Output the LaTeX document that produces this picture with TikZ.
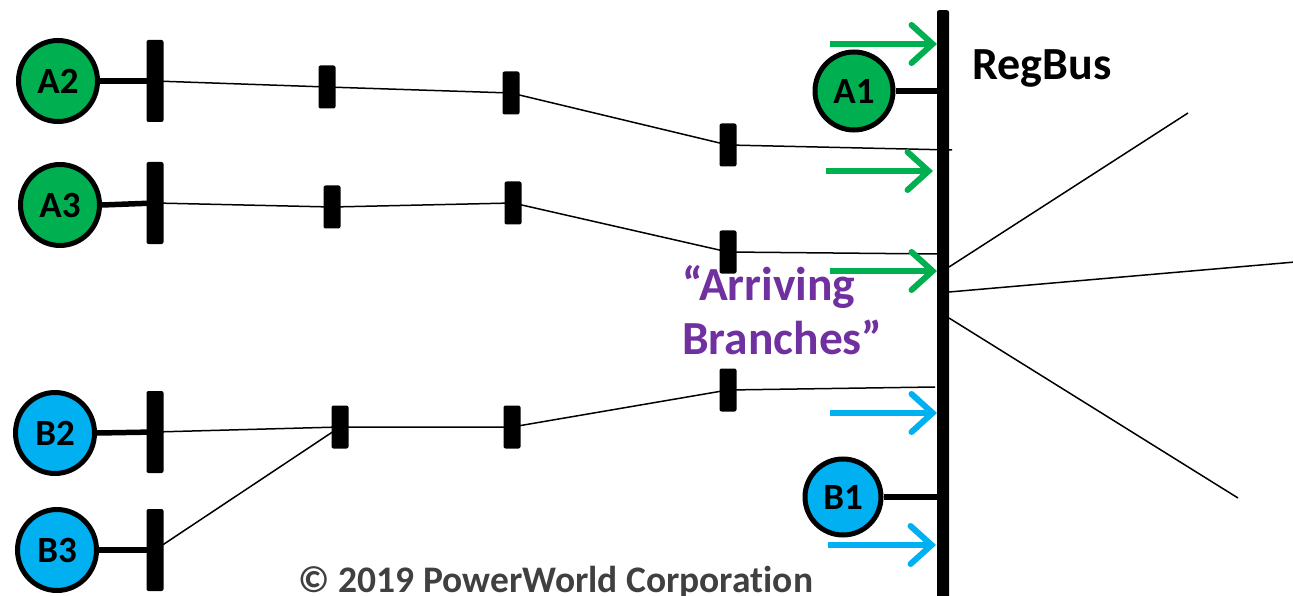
\documentclass[tikz,border=0pt]{standalone}
\usepackage{fontspec}
\setmainfont{Carlito}[Ligatures=NoCommon]
\usetikzlibrary{shapes.geometric,arrows.meta}
\definecolor{gengreen}{HTML}{00B050}
\definecolor{gencyan}{HTML}{00B0F0}
\definecolor{notepurple}{HTML}{7030A0}
\definecolor{notegray}{HTML}{404040}
\begin{document}
\begin{tikzpicture}[x=1pt,y=-1pt,
  gen/.style={ellipse, draw=black, line width=5pt, minimum width=79pt, minimum height=81pt,
    inner sep=0pt, font=\bfseries\fontsize{37}{37}\selectfont},
  gena/.style={gen, fill=gengreen},
  genb/.style={gen, fill=gencyan},
  busbar/.style={rectangle, fill=black, rounded corners=2pt, minimum width=17pt,
    minimum height=82pt, inner sep=0pt},
  segbar/.style={busbar, minimum height=43pt},
  wire/.style={line width=1.5pt},
  stub/.style={line width=5.5pt},
  flow/.style={line width=6pt, -{Straight Barb[length=21pt,width=38pt,line cap=round]}},
]
\useasboundingbox (0,0) rectangle (1293,596);

% main regulated bus
\node[rectangle, fill=black, rounded corners=2pt, minimum width=12pt, minimum height=600pt,
  inner sep=0pt, anchor=north] (bus) at (943,10) {};
\node[anchor=base west, font=\bfseries\fontsize{46}{46}\selectfont] (regbus) at (969,80) {RegBus};

% generators
\node[gena] (A2) at (58,81) {A2};
\node[gena] (A3) at (60,205) {A3};
\node[genb] (B2) at (55,433) {B2};
\node[genb] (B3) at (57,550) {B3};
\node[gena, minimum width=78pt, minimum height=78pt] (A1) at (854,91) {A1};
\node[genb, minimum width=76pt, minimum height=76pt] (B1) at (843,497) {B1};

% buses along the A2 path
\node[busbar] (a2b1) at (155,81) {};
\node[segbar] (a2b2) at (327,87) {};
\node[segbar] (a2b3) at (511,93) {};
\node[segbar] (a2b4) at (728,145) {};
% buses along the A3 path
\node[busbar] (a3b1) at (155,203) {};
\node[segbar] (a3b2) at (332,207) {};
\node[segbar] (a3b3) at (513,203) {};
\node[segbar] (a3b4) at (728,252) {};
% buses along the B2/B3 path
\node[busbar] (b2b1) at (155,432) {};
\node[busbar] (b3b1) at (155,550) {};
\node[segbar] (b2b2) at (340,427) {};
\node[segbar] (b2b3) at (512,427) {};
\node[segbar] (b2b4) at (728,390) {};

% branch ends at the regulated bus
\coordinate (a2end) at (952,150);
\coordinate (a3end) at (938,254);
\coordinate (b2end) at (935,387);

% generator step-up connections
\draw[stub] (A2.east) -- (a2b1.center);
\draw[stub] (A3.east) -- (a3b1.center);
\draw[stub] (B2.east) -- (b2b1.center);
\draw[stub] (B3.east) -- (b3b1.center);
\draw[stub] (A1.east) -- (A1.east -| bus.center);
\draw[stub] (B1.east) -- (B1.east -| bus.center);

% arriving branches
\draw[wire] (a2b1.center) -- (a2b2.center) -- (a2b3.center) -- (a2b4.center) -- (a2end);
\draw[wire] (a3b1.center) -- (a3b2.center) -- (a3b3.center) -- (a3b4.center) -- (a3end);
\draw[wire] (b2b1.center) -- (b2b2.center) -- (b2b3.center) -- (b2b4.center) -- (b2end);
\draw[wire] (b3b1.center) -- (b2b2.center);

% other branches leaving the regulated bus
\coordinate (o1s) at (949,267);
\coordinate (o1e) at (1188,113);
\coordinate (o2s) at (949,292);
\coordinate (o2e) at (1295,262);
\coordinate (o3s) at (949,318);
\coordinate (o3e) at (1238,498);
\draw[wire] (o1s) -- (o1e);
\draw[wire] (o2s) -- (o2e);
\draw[wire] (o3s) -- (o3e);

% flow arrows into the regulated bus
\coordinate (f1s) at (830,44);  \coordinate (f1e) at (937,44);
\coordinate (f2s) at (826,171); \coordinate (f2e) at (933,171);
\coordinate (f3s) at (830,271); \coordinate (f3e) at (937,271);
\coordinate (f4s) at (830,413); \coordinate (f4e) at (937,413);
\coordinate (f5s) at (828,545); \coordinate (f5e) at (936,545);
\draw[flow, gengreen] (f1s) -- (f1e);
\draw[flow, gengreen] (f2s) -- (f2e);
\draw[flow, gengreen] (f3s) -- (f3e);
\draw[flow, gencyan] (f4s) -- (f4e);
\draw[flow, gencyan] (f5s) -- (f5e);

% labels
\node[anchor=north west, align=left, inner sep=0pt, text=notepurple,
  font=\bfseries\fontsize{47.5}{54}\selectfont] (arriving) at (682,265) {“Arriving\\Branches”};
\node[anchor=base, inner sep=0pt, text=notegray, font=\bfseries\fontsize{37.5}{37.5}\selectfont]
  (copy) at (556,592) {© 2019 PowerWorld Corporation};
\end{tikzpicture}
\end{document}
